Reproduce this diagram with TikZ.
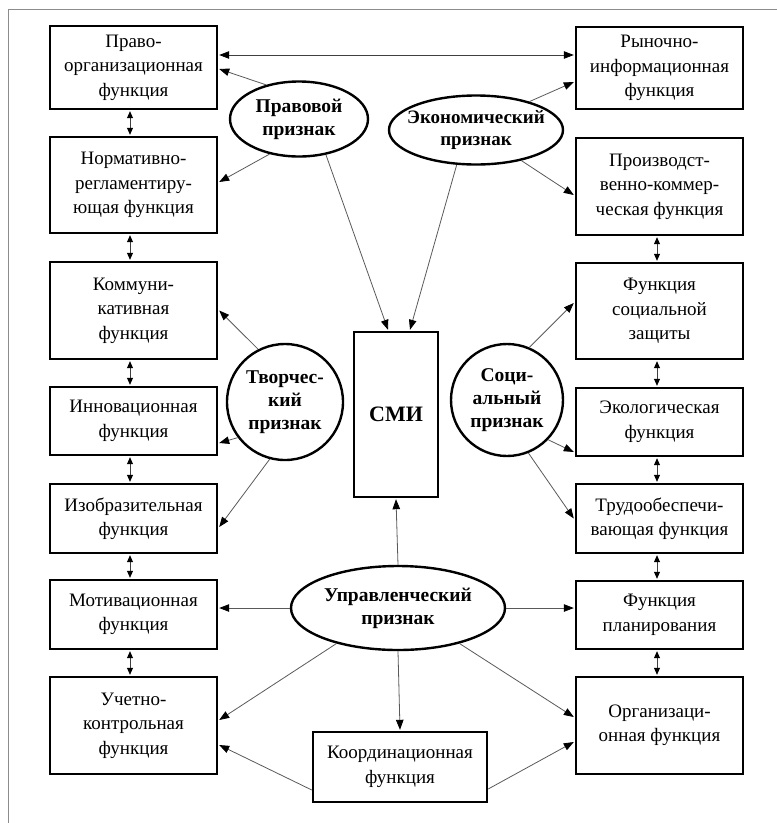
\documentclass[tikz,border=0pt]{standalone}
\usepackage{fontspec}
\setmainfont{Liberation Serif}
\usetikzlibrary{arrows.meta,calc,shapes.geometric}
\begin{document}
\begin{tikzpicture}[x=1pt,y=-1pt,
  fbox/.style={draw,line width=2.4pt,minimum width=167pt,inner sep=0pt,align=center,font=\fontsize{19}{24.5}\selectfont},
  oval/.style={draw,line width=2.4pt,ellipse,inner sep=0pt,align=center,font=\bfseries\fontsize{19.5}{23}\selectfont},
  conn/.style={draw=black!65,line width=0.8pt,-{Triangle[length=10pt,width=7.5pt,color=black]}},
  dbl/.style={draw=black!75,line width=0.8pt,{Triangle[length=7pt,width=6pt,color=black]}-{Triangle[length=7pt,width=6pt,color=black]}},
  frame/.style={draw=black!45,line width=1pt}]
\useasboundingbox (0,0) rectangle (777,823);
\draw[frame] (8,823) -- (8,9) -- (777,9);

% left column
\node[fbox,minimum height=83pt] (L1) at (133.5,67.5) {Право-\\организационная\\функция};
\node[fbox,minimum height=96pt] (L2) at (133.5,185) {Нормативно-\\регламентиру-\\ющая функция};
\node[fbox,minimum height=97pt] (L3) at (133.5,310.5) {Коммуни-\\кативная\\функция};
\node[fbox,minimum height=68pt] (L4) at (133.5,421) {Инновационная\\функция};
\node[fbox,minimum height=69pt] (L5) at (133.5,518.5) {Изобразительная\\функция};
\node[fbox,minimum height=69pt] (L6) at (133.5,614.5) {Мотивационная\\функция};
\node[fbox,minimum height=97pt] (L7) at (133.5,725.5) {Учетно-\\контрольная\\функция};

% right column
\node[fbox,minimum height=82pt] (R1) at (659.5,68) {Рыночно-\\информационная\\функция};
\node[fbox,minimum height=97pt] (R2) at (659.5,186.5) {Производст-\\венно-коммер-\\ческая функция};
\node[fbox,minimum height=96pt] (R3) at (659.5,311) {Функция\\социальной\\защиты};
\node[fbox,minimum height=68pt] (R4) at (659.5,422) {Экологическая\\функция};
\node[fbox,minimum height=69pt] (R5) at (659.5,518.5) {Трудообеспечи-\\вающая функция};
\node[fbox,minimum height=68pt] (R6) at (659.5,615) {Функция\\планирования};
\node[fbox,minimum height=97pt] (R7) at (659.5,725.5) {Организаци-\\онная функция};

% centre
\node[fbox,minimum width=174pt,minimum height=70pt] (K) at (400,767) {Координационная\\функция};
\node[draw,line width=2.4pt,minimum width=84pt,minimum height=165pt,inner sep=0pt,font=\bfseries\fontsize{22}{26}\selectfont] (S) at (396,414.5) {СМИ};

% ovals
\node[oval,minimum width=138pt,minimum height=75pt] (P) at (299,119) {Правовой\\признак};
\node[oval,inner sep=-10pt,minimum width=174pt,minimum height=69pt,font=\bfseries\fontsize{19}{21.5}\selectfont] (E) at (476,130) {Экономический\\признак};
\node[oval,minimum width=116pt,minimum height=116pt] (T) at (285,402) {Творчес-\\кий\\признак};
\node[oval,minimum width=112pt,minimum height=112pt] (C) at (507,400) {Соци-\\альный\\признак};
\node[oval,inner sep=-2pt,minimum width=214pt,minimum height=84pt] (U) at (398,608) {Управленческий\\признак};

% vertical double arrows
\foreach \a/\b in {L1/L2,L2/L3,L3/L4,L4/L5,L5/L6,L6/L7}
  \draw[dbl] ($(\a.south)+(-3.5,1)$) -- ($(\b.north)+(-3.5,-1)$);
\foreach \a/\b in {R2/R3,R3/R4,R4/R5,R5/R6,R6/R7}
  \draw[dbl] ($(\a.south)+(-2.5,1)$) -- ($(\b.north)+(-2.5,-1)$);

% top link
\draw[dbl,{Triangle[length=10pt,width=7.5pt,color=black]}-{Triangle[length=10pt,width=7.5pt,color=black]}]
  ($(L1.east)+(1,-12.5)$) -- ($(R1.west)+(-1,-13)$);

% Правовой
\draw[conn] (P.134) -- ($(L1.east)+(1,1.5)$);
\draw[conn] (P.230) -- ($(L2.east)+(1,-3)$);
\draw[conn] (P.307) -- ($(S.north)+(-8,-1)$);
% Экономический
\draw[conn] (E.28) -- ($(R1.west)+(-1,14)$);
\draw[conn] (E.326) -- ($(R2.west)+(-1,8.5)$);
\draw[conn] (E.241) -- ($(S.north)+(14,-1)$);
% Творческий
\draw[conn] (T.117) -- ($(L3.east)+(1,0)$);
\draw[conn] (T.217) -- ($(L4.east)+(1,22)$);
\draw[conn] (T.255) -- ($(L5.east)+(1,8.5)$);
% Социальный
\draw[conn] (C.67) -- ($(R3.west)+(-1,-8)$);
\draw[conn] (C.316) -- ($(R4.west)+(-1,30)$);
\draw[conn] (C.292) -- ($(R5.west)+(-1,0)$);
% Управленческий
\draw[conn] (U.north) -- ($(S.south)+(0,1)$);
\draw[conn] (U.west) -- ($(U.west -| L6.east)+(1,0)$);
\draw[conn] (U.east) -- ($(U.east -| R6.west)+(-1,0)$);
\draw[conn] (U.south) -- ($(K.north)+(0,-1)$);
\draw[conn] (U.210) -- ($(L7.east)+(1,-5.5)$);
\draw[conn] (U.330) -- ($(R7.west)+(-1,-8.5)$);
% Координационная
\draw[conn] ($(K.west)+(0,23)$) -- ($(L7.east)+(1,19.5)$);
\draw[conn] ($(K.east)+(0,22)$) -- ($(R7.west)+(-1,16.5)$);
\end{tikzpicture}
\end{document}
